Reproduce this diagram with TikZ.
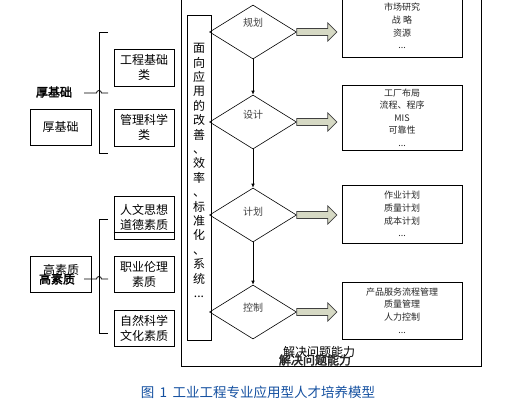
\documentclass[tikz,border=0pt]{standalone}
\usepackage{fontspec}
\setmainfont{Noto Sans CJK SC}
\newfontfamily\cjkb[FakeBold=2.5]{Noto Sans CJK SC}
\usetikzlibrary{shapes.geometric,arrows.meta}
\definecolor{arrfill}{RGB}{214,217,196}
\definecolor{capblue}{RGB}{20,80,160}
\tikzset{
  ln/.style={line width=0.8pt},
  lbox/.style={draw, line width=0.8pt, minimum width=60pt, minimum height=36pt, inner sep=0pt, align=center, font=\fontsize{12}{15}\selectfont},
  rbox/.style={draw, line width=0.8pt, minimum width=120pt, inner sep=0pt, align=center, font=\fontsize{9}{12.6}\selectfont, text=black!85},
  dia/.style={draw, diamond, minimum width=87pt, minimum height=54pt, inner sep=0pt, line width=0.6pt},
  dlab/.style={font=\fontsize{10}{12}\selectfont, text=black!75},
  barrow/.style={draw=black!75, fill=arrfill, line width=0.7pt},
  varrow/.style={line width=0.7pt, -{Latex[length=4pt,width=3.5pt]}}
}
\begin{document}
\begin{tikzpicture}[x=1pt,y=-1pt]
\useasboundingbox (0,0) rectangle (522,413);

% outer frame
\node[draw, line width=0.8pt, minimum width=300pt, minimum height=371pt, inner sep=0pt] (frame) at (331,180.5) {};

% vertical text box
\node[draw, line width=0.8pt, minimum width=24pt, minimum height=325pt, inner sep=0pt] (vbox) at (199,177.5) {};
\node[align=center, inner sep=0pt, font=\fontsize{12}{14.4}\selectfont] (vtext) at (199,170.5)
 {面\\向\\应\\用\\的\\改\\善\\、\\效\\率\\、\\标\\准\\化\\、\\系\\统\\...};

% diamonds
\node[dia] (d1) at (253,32) {};
\node[dia] (d2) at (253,122) {};
\node[dia] (d3) at (253,215) {};
\node[dia] (d4) at (253,312) {};
\node[dlab] (t1) at (253,23) {规划};
\node[dlab] (t2) at (253,115) {设计};
\node[dlab] (t3) at (253,212) {计划};
\node[dlab] (t4) at (253,308) {控制};

\draw[varrow] (d1.south) -- (d2.north);
\draw[varrow] (d2.south) -- (d3.north);
\draw[varrow] (d3.south) -- (d4.north);

% block arrows
\foreach \d in {d1,d2,d3,d4}{
  \draw[barrow] (\d.east) ++(0,-3.5) -- ++(31,0) -- ++(0,-5.5) -- ++(9,9) -- ++(-9,9) -- ++(0,-5.5) -- ++(-31,0) -- cycle;
}

% right boxes
\node[rbox, minimum height=62pt] (r1) at (402,26) {市场研究\\战 略\\资源\\...};
\node[rbox, minimum height=65pt] (r2) at (402,117.5) {工厂布局\\流程、程序\\MIS\\可靠性\\...};
\node[rbox, minimum height=58pt] (r3) at (402,214) {作业计划\\质量计划\\成本计划\\...};
\node[rbox, minimum height=57pt] (r4) at (402,310.5) {产品服务流程管理\\质量管理\\人力控制\\...};

% bottom label
\node[font=\fontsize{12}{14}\selectfont, inner sep=0pt] (jj1) at (319,352) {解决问题能力};
\node[font=\fontsize{12}{14}\cjkb, inner sep=0pt, text=black!85] (jj2) at (315,360) {解决问题能力};

% left upper group
\node[lbox, minimum height=37pt] (g1) at (144,67.5) {工程基础\\类};
\node[lbox, minimum height=37pt] (g2) at (144,127.5) {管理科学\\类};
\node[lbox, minimum width=61pt] (hjc) at (60.5,127) {厚基础};
\node[font=\fontsize{12}{14}\cjkb, inner sep=0pt] (hlab) at (54,92) {厚基础};
\coordinate (b1t) at (99,32);
\coordinate (b1b) at (99,153);
\coordinate (b1m) at (84,93);
\coordinate (b1r) at (108,93);
\draw[ln] (b1t -| b1r) -- (b1t) -- (b1b) -- (b1b -| b1r);
\draw[ln] (b1m) -- (96.5,93) arc (180:360:2.5) -- (b1r);

% left lower group
\node[lbox, minimum height=43pt] (g3) at (144,217.5) {人文思想\\道德素质};
\draw[ln] ([yshift=7pt]g3.south west) -- ([yshift=7pt]g3.south east);
\node[lbox] (g4) at (144,274) {职业伦理\\素质};
\node[lbox] (g5) at (144,328) {自然科学\\文化素质};
\node[lbox, minimum width=61pt] (gsz) at (60.5,274) {};
\node[font=\fontsize{12}{14}\selectfont, inner sep=0pt] (gszt1) at (61,270) {高素质};
\node[font=\fontsize{12}{14}\cjkb, inner sep=0pt] (gszt2) at (57,279) {高素质};
\coordinate (b2t) at (99,219);
\coordinate (b2b) at (99,333);
\coordinate (b2m) at (84,279);
\coordinate (b2r) at (108,279);
\draw[ln] (b2t -| b2r) -- (b2t) -- (b2b) -- (b2b -| b2r);
\draw[ln] (b2m) -- (96.5,279) arc (180:360:2.5) -- (b2r);

% caption
\node[font=\fontsize{13.5}{16}\selectfont, text=capblue, inner sep=0pt] (cap) at (258,392) {图\, 1\, 工业工程专业应用型人才培养模型};
\end{tikzpicture}
\end{document}
